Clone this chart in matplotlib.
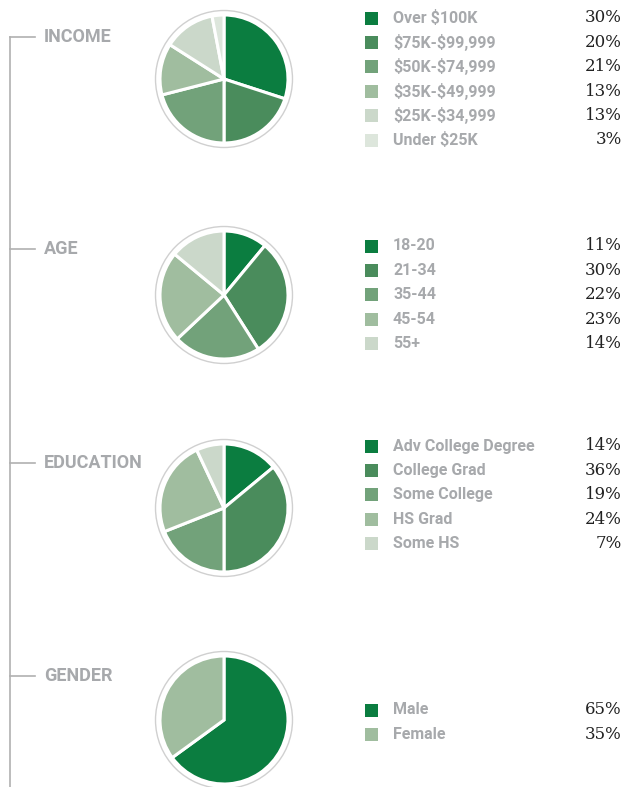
"""Demographic pies: income, age, education, gender."""

import matplotlib
matplotlib.use("Agg")
import matplotlib.pyplot as plt
from matplotlib.patches import Circle

W, H = 626, 787

GREENS = ["#0b7d40", "#4a8c5c", "#72a27a", "#a0bd9f", "#cbd8ca", "#dde6dc"]
GRAY = "#a7a9ac"

income_labels = ["Over $100K", "$75K-$99,999", "$50K-$74,999", "$35K-$49,999",
                 "$25K-$34,999", "Under $25K"]
income_values = [30, 20, 21, 13, 13, 3]

age_labels = ["18-20", "21-34", "35-44", "45-54", "55+"]
age_values = [11, 30, 22, 23, 14]

education_labels = ["Adv College Degree", "College Grad", "Some College", "HS Grad", "Some HS"]
education_values = [14, 36, 19, 24, 7]

gender_labels = ["Male", "Female"]
gender_values = [65, 35]

LABEL_FONT = ["Roboto", "DejaVu Sans"]
PCT_FONT = ["DejaVu Serif", "Liberation Serif"]

sections = [
    # title, labels, values, colors, title y, pie y, first legend row y
    ("INCOME", income_labels, income_values, GREENS[:6], 37, 79, 18),
    ("AGE", age_labels, age_values, GREENS[:5], 249, 295, 246),
    ("EDUCATION", education_labels, education_values, GREENS[:5], 463, 508, 446),
    ("GENDER", gender_labels, gender_values, [GREENS[0], GREENS[3]], 676, 720, 710),
]


def main():
    fig = plt.figure(figsize=(W / 100, H / 100), dpi=100)
    ax = fig.add_axes([0, 0, 1, 1])
    ax.set_xlim(0, W)
    ax.set_ylim(0, H)
    ax.set_aspect("equal")
    ax.axis("off")

    y = lambda py: H - py

    # timeline spine
    ax.plot([10, 10], [y(37), y(787)], color="#b0b0b0", lw=1.2)

    for title, labels, values, colors, ty, py, ly in sections:
        ax.plot([10, 35], [y(ty), y(ty)], color="#b0b0b0", lw=1.2)
        ax.text(44, y(ty), title, color=GRAY, fontsize=13, fontweight="bold",
                family=LABEL_FONT, va="center", ha="left")

        ax.pie(values, colors=colors, startangle=90, counterclock=False,
               center=(224, y(py)), radius=64, frame=True,
               wedgeprops=dict(edgecolor="white", linewidth=2.2))
        ax.add_patch(Circle((224, y(py)), 68.5, fill=False, edgecolor="#d0d0d0", lw=1))

        for i, (lab, val) in enumerate(zip(labels, values)):
            ry = y(ly + i * 24.4)
            ax.add_patch(plt.Rectangle((365, ry - 6.5), 13, 13, color=colors[i], lw=0))
            ax.text(393, ry, lab, color=GRAY, fontsize=11.5, fontweight="bold",
                    family=LABEL_FONT, va="center", ha="left", parse_math=False)
            ax.text(622, ry, f"{val}%", color="#222222", fontsize=12,
                    family=PCT_FONT, va="center", ha="right")

    ax.set_xlim(0, W)
    ax.set_ylim(0, H)
    fig.savefig("out.png", dpi=100)
    plt.close(fig)


if __name__ == "__main__":
    main()
